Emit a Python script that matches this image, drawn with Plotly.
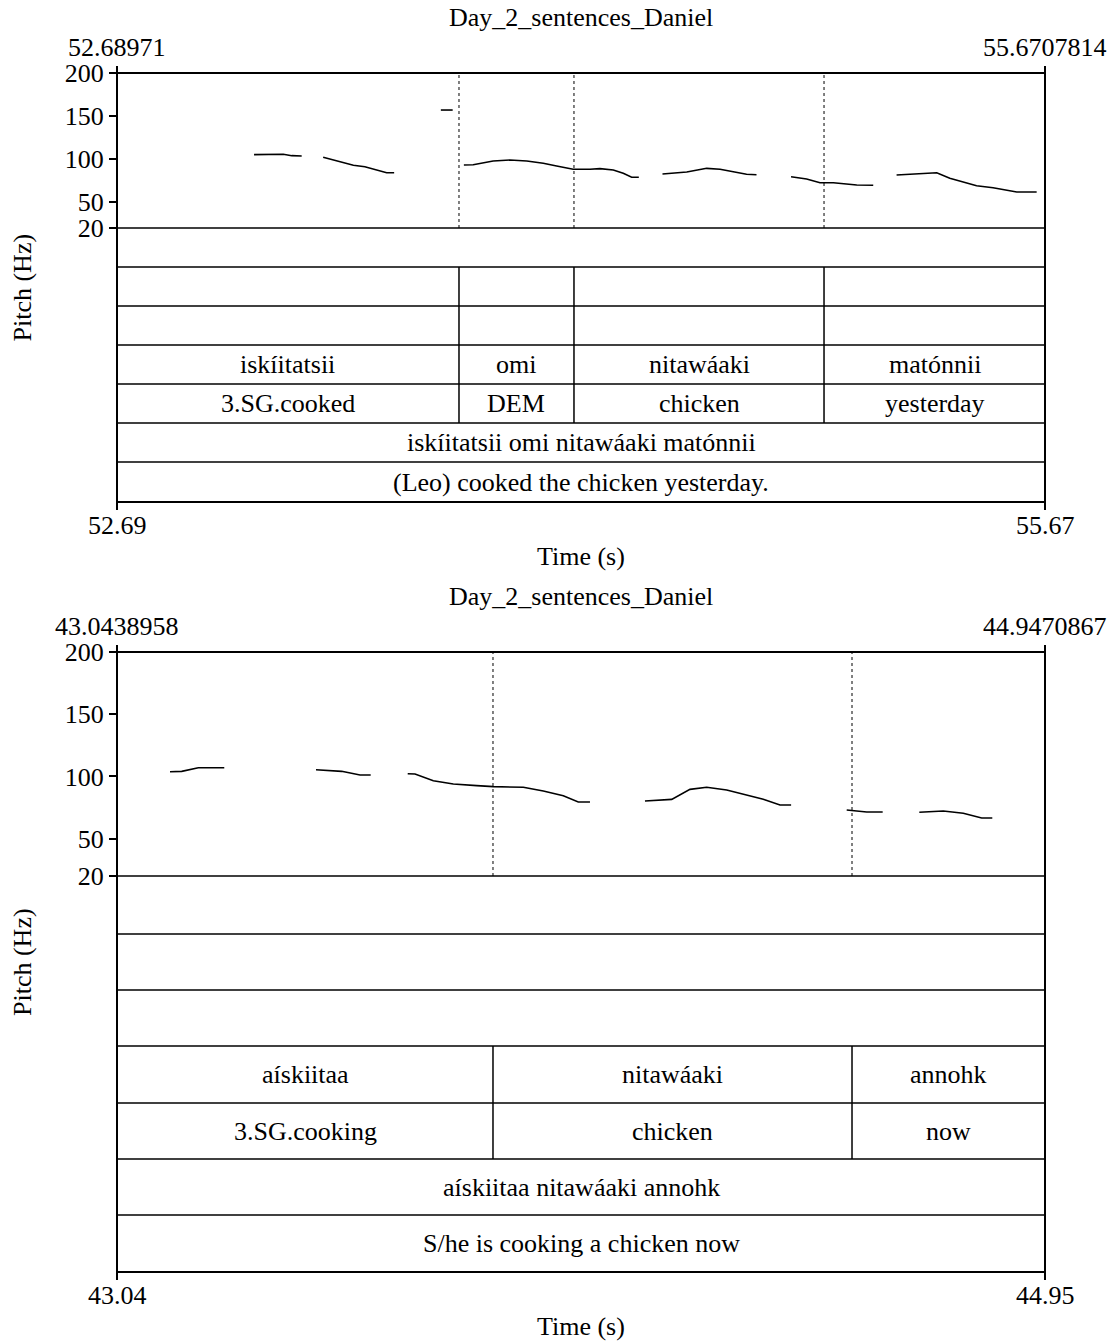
import plotly.graph_objects as go

W, H = 1119, 1341
FONT = "Liberation Serif, Times New Roman, serif"
FS = 26

# ---------------- data: panel 1 ----------------
title1 = "Day_2_sentences_Daniel"
tmin1, tmax1 = 52.68971, 55.6707814
top_lo1, top_hi1 = "52.68971", "55.6707814"
tick_lo1, tick_hi1 = "52.69", "55.67"
bounds1 = [53.7883, 54.1577, 54.9609]
words1 = ["iskíitatsii", "omi", "nitawáaki", "matónnii"]
gloss1 = ["3.SG.cooked", "DEM", "chicken", "yesterday"]
sent1 = "iskíitatsii omi nitawáaki matónnii"
trans1 = "(Leo) cooked the chicken yesterday."

p1_seg_t = [
    [53.130, 53.224, 53.251, 53.283],
    [53.352, 53.374, 53.449, 53.486, 53.556, 53.580],
    [53.730, 53.768],
    [53.804, 53.834, 53.898, 53.952, 54.006, 54.059, 54.102, 54.155, 54.209,
     54.241, 54.284, 54.316, 54.343, 54.366],
    [54.442, 54.520, 54.584, 54.627, 54.712, 54.744],
    [54.855, 54.905, 54.948, 54.991, 55.066, 55.119],
    [55.194, 55.247, 55.323, 55.365, 55.451, 55.504, 55.580, 55.644],
]
p1_seg_f0 = [
    [105.2, 105.6, 104.0, 103.6],
    [102.1, 100.1, 92.8, 91.2, 84.2, 84.2],
    [157.0, 157.0],
    [93.2, 93.5, 97.8, 99.0, 97.8, 95.1, 92.0, 88.2, 88.2, 89.0, 87.4, 83.5, 78.9, 78.9],
    [82.7, 85.0, 89.3, 88.2, 82.4, 81.9],
    [79.6, 76.9, 72.6, 72.6, 70.0, 69.6],
    [81.5, 82.3, 84.2, 77.7, 69.1, 66.8, 61.8, 61.8],
]

# ---------------- data: panel 2 ----------------
title2 = "Day_2_sentences_Daniel"
tmin2, tmax2 = 43.0438958, 44.9470867
top_lo2, top_hi2 = "43.0438958", "44.9470867"
tick_lo2, tick_hi2 = "43.04", "44.95"
bounds2 = [43.815, 44.5513]
words2 = ["aískiitaa", "nitawáaki", "annohk"]
gloss2 = ["3.SG.cooking", "chicken", "now"]
sent2 = "aískiitaa nitawáaki annohk"
trans2 = "S/he is cooking a chicken now"

p2_seg_t = [
    [43.1526, 43.1766, 43.2106, 43.2639],
    [43.4520, 43.5047, 43.5423, 43.5642],
    [43.6401, 43.6551, 43.6926, 43.7336, 43.7816, 43.8157, 43.8772, 43.9182,
     43.9592, 43.9899, 44.0139],
    [44.1267, 44.1815, 44.2190, 44.2532, 44.2943, 44.3353, 44.3693, 44.4036, 44.4264],
    [44.5404, 44.5814, 44.6142],
    [44.6893, 44.7385, 44.7795, 44.8172, 44.8390],
]
p2_seg_f0 = [
    [103.8, 104.1, 107.0, 107.0],
    [105.4, 104.1, 101.2, 101.2],
    [102.2, 102.0, 96.6, 93.9, 92.6, 91.8, 91.3, 88.3, 84.5, 79.5, 79.5],
    [80.3, 81.6, 89.6, 91.3, 89.1, 84.8, 81.6, 77.0, 77.0],
    [73.0, 71.4, 71.4],
    [71.2, 72.2, 70.4, 66.6, 66.6],
]

yticks = [20, 50, 100, 150, 200]
f0_range = [20, 200]


def PX(x):
    return x / W


def PY(y):
    return 1 - y / H


fig = go.Figure()
shapes = []
annos = []

XL, XR = 117, 1045


def panel(idx, top, pitch_bot, tier_edges, tmin, tmax, top_lo, top_hi, lo_lab, hi_lab,
          title, bounds, words, gloss, sent, trans, seg_t, seg_f0, word_tiers):
    xa = "x" if idx == 1 else "x%d" % idx
    ya = "y" if idx == 1 else "y%d" % idx
    xkey = "xaxis" if idx == 1 else "xaxis%d" % idx
    ykey = "yaxis" if idx == 1 else "yaxis%d" % idx
    bottom = tier_edges[-1]
    for t, f in zip(seg_t, seg_f0):
        fig.add_trace(go.Scatter(x=t, y=f, mode="lines", xaxis=xa, yaxis=ya,
                                 line=dict(color="black", width=1.6),
                                 showlegend=False, hoverinfo="skip"))
    fig.update_layout(**{
        xkey: dict(domain=[PX(XL), PX(XR)], range=[tmin, tmax], anchor="free",
                   position=PY(bottom), showgrid=False, zeroline=False,
                   showline=False, tickvals=[tmin, tmax], showticklabels=False,
                   ticks="outside", ticklen=7, tickwidth=2, tickcolor="black",
                   automargin=False),
        ykey: dict(domain=[PY(pitch_bot), PY(top)], range=f0_range, anchor=xa,
                   showgrid=False, zeroline=False, showline=False,
                   tickvals=yticks, ticks="outside", ticklen=7, tickwidth=2,
                   tickcolor="black", automargin=False,
                   tickfont=dict(family=FONT, size=FS, color="black")),
    })
    # frame
    shapes.append(dict(type="rect", xref="paper", yref="paper",
                       x0=PX(XL), x1=PX(XR), y0=PY(bottom), y1=PY(top),
                       line=dict(color="black", width=2)))
    # top corner ticks
    for xx in (XL, XR):
        shapes.append(dict(type="line", xref="paper", yref="paper",
                           x0=PX(xx), x1=PX(xx), y0=PY(top), y1=PY(top - 7),
                           line=dict(color="black", width=2)))
    # tier separators
    for e in tier_edges[:-1]:
        shapes.append(dict(type="line", xref="paper", yref="paper",
                           x0=PX(XL), x1=PX(XR), y0=PY(e), y1=PY(e),
                           line=dict(color="black", width=1.5)))
    # dotted boundaries in pitch area
    for b in bounds:
        shapes.append(dict(type="line", xref=xa, yref="paper",
                           x0=b, x1=b, y0=PY(pitch_bot), y1=PY(top),
                           line=dict(color="black", width=1, dash="dot")))
    # boundaries in interval tiers
    for k in word_tiers:
        for b in bounds:
            shapes.append(dict(type="line", xref=xa, yref="paper",
                               x0=b, x1=b, y0=PY(tier_edges[k + 1]), y1=PY(tier_edges[k]),
                               line=dict(color="black", width=1.5)))
    edges_t = [tmin] + bounds + [tmax]

    def txt(text, x, ypix, xref=xa, **kw):
        annos.append(dict(text=text, x=x, xref=xref, y=PY(ypix), yref="paper",
                          showarrow=False, xanchor="center", yanchor="middle",
                          font=dict(family=FONT, size=FS, color="black"), **kw))

    def put(text, x, tier):
        txt(text, x, (tier_edges[tier] + tier_edges[tier + 1]) / 2)

    for i, w in enumerate(words):
        put(w, (edges_t[i] + edges_t[i + 1]) / 2, 3)
    for i, g in enumerate(gloss):
        put(g, (edges_t[i] + edges_t[i + 1]) / 2, 4)
    put(sent, (tmin + tmax) / 2, 5)
    put(trans, (tmin + tmax) / 2, 6)
    # time labels
    txt(top_lo, tmin, top - 26)
    txt(top_hi, tmax, top - 26)
    txt(lo_lab, tmin, bottom + 23)
    txt(hi_lab, tmax, bottom + 23)
    txt(title, (tmin + tmax) / 2, top - 56)
    txt("Time (s)", (tmin + tmax) / 2, bottom + 54)
    txt("Pitch (Hz)", PX(22), (top + bottom) / 2, xref="paper", textangle=-90)


panel(1, 73, 228, [228, 267, 306, 345, 384, 423, 462, 502], tmin1, tmax1,
      top_lo1, top_hi1, tick_lo1, tick_hi1, title1, bounds1, words1, gloss1, sent1, trans1,
      p1_seg_t, p1_seg_f0, word_tiers=[1, 2, 3, 4])
panel(2, 652, 876, [876, 934, 990, 1046, 1103, 1159, 1215, 1272], tmin2, tmax2,
      top_lo2, top_hi2, tick_lo2, tick_hi2, title2, bounds2, words2, gloss2, sent2, trans2,
      p2_seg_t, p2_seg_f0, word_tiers=[3, 4])

fig.update_layout(width=W, height=H, margin=dict(l=0, r=0, t=0, b=0, autoexpand=False),
                  paper_bgcolor="white", plot_bgcolor="white",
                  shapes=shapes, annotations=annos, showlegend=False)
fig.write_html("out.html", config={"displayModeBar": False},
               post_script="document.body.style.margin='0px';"
                           "document.body.style.padding='0px';"
                           "document.body.style.overflow='hidden';")
